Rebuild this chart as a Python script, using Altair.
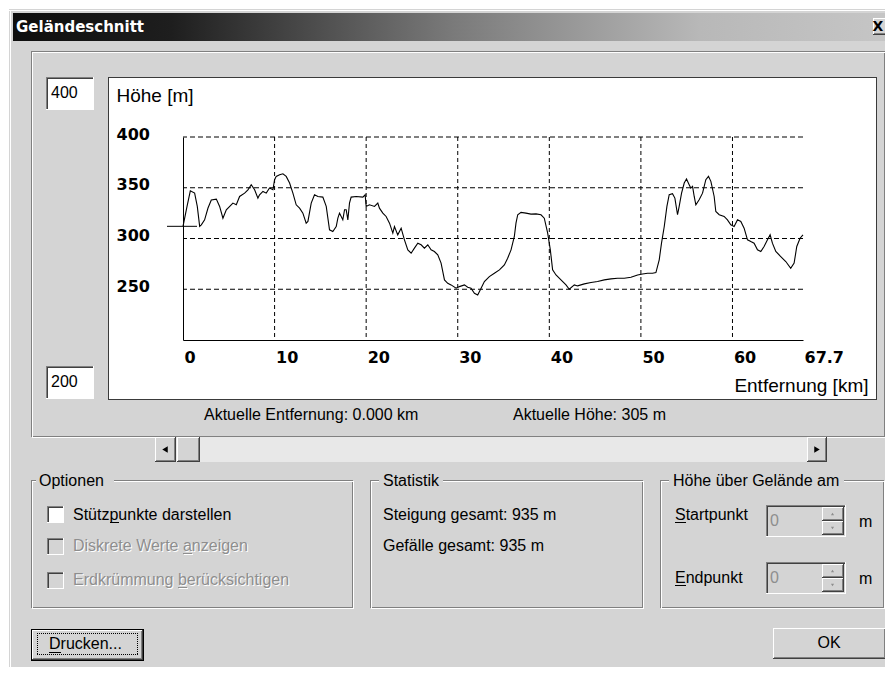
import altair as alt
import pandas as pd

# ---------------- data ----------------
KM = [0.00, 0.44, 0.80, 1.27, 1.56, 1.82, 2.00, 2.36, 2.73, 3.09,
      3.64, 4.00, 4.36, 4.73, 5.45, 5.82, 6.18, 6.73, 7.09, 7.45,
      7.82, 8.18, 8.36, 8.73, 9.09, 9.45, 9.82, 10.00, 10.18, 10.55,
      10.91, 11.27, 11.64, 12.00, 12.36, 12.73, 13.09, 13.45, 13.64, 14.00,
      14.36, 14.73, 15.27, 15.64, 16.00, 16.36, 16.73, 16.91, 17.09, 17.45,
      17.64, 17.82, 18.00, 18.18, 18.36, 18.91, 19.64, 19.89, 20.00, 20.36,
      20.91, 21.27, 21.45, 21.82, 22.18, 22.55, 22.91, 23.09, 23.45, 23.82,
      24.18, 24.55, 24.91, 25.27, 25.64, 26.00, 26.36, 26.73, 27.09, 27.45,
      27.82, 28.18, 28.55, 28.91, 29.27, 29.82, 30.18, 30.73, 31.09, 31.45,
      31.82, 32.18, 32.55, 32.91, 33.45, 34.00, 34.55, 35.09, 35.45, 35.82,
      36.18, 36.36, 36.55, 36.91, 37.45, 38.00, 38.55, 39.09, 39.45,
      39.82, 40.11, 40.36, 40.73, 41.27, 41.82, 42.18, 42.73, 43.09, 43.82,
      44.55, 45.27, 46.00, 46.73, 47.45, 48.18, 48.91, 49.64, 50.18, 50.73,
      51.27, 51.64, 52.00, 52.25, 52.55, 52.84, 53.09, 53.45, 53.71, 54.00,
      54.18, 54.44, 54.73, 54.98, 55.27, 55.45, 55.64, 55.82, 56.00, 56.36,
      56.73, 57.09, 57.38, 57.64, 58.00, 58.18, 58.55, 59.09, 59.45, 59.82,
      60.18, 60.55, 60.91, 61.27, 61.64, 62.00, 62.36, 62.73, 63.09, 63.45,
      63.82, 64.11, 64.36, 64.73, 65.27, 65.82, 66.36, 66.73, 67.02, 67.38,
      67.70]
HOEHE = [312, 331.6, 347, 344.7, 331.6, 312, 313.5, 318.4, 330, 338,
         338.8, 331.6, 320, 328.3, 334.9, 333.2, 341.4, 344.7, 348, 353,
         348, 339.8, 343, 346.4, 344.7, 349.7, 348, 357.9, 361.2, 362.8,
         363.8, 361.2, 354.6, 344.7, 333.2, 329.9, 325, 315.1, 316.8, 334.9,
         343.1, 341.4, 340.8, 331.6, 308.6, 306.9, 311.8, 320, 325, 318.4,
         328.3, 328.3, 318.4, 334.9, 340.8, 341.4, 340.8, 343.1, 331.6, 333.2,
         331.6, 334.9, 329.9, 325, 321.7, 315.1, 305.3, 311.8, 303.6, 310.2,
         298.7, 288.8, 285.5, 290.5, 295.4, 293.8, 290.5, 293.8, 288.8, 287.2,
         283.9, 275.7, 259.2, 255.9, 254.3, 251, 252.6, 254.3, 252, 251,
         246, 244.4, 251, 257.6, 262.5, 265.8, 269.1, 274, 280.6, 288.8,
         302, 315.1, 323.4, 325.7, 325, 324, 324.3, 323.4, 320,
         305.3, 288.8, 269.1, 264.1, 259.2, 254.3, 250, 254.3, 253.3, 255.3,
         256.6, 257.6, 259.2, 260.2, 260.9, 260.9, 261.8, 264.1, 265.1, 265.8,
         265.8, 266.4, 279, 295.4, 311.8, 331.6, 343.1, 344.1, 339.8, 323.4,
         331.6, 344.7, 354.6, 358.6, 353, 349.7, 351.3, 341.4, 333.2, 338.2,
         344.7, 357.9, 361.2, 356.3, 341.4, 326.6, 323.4, 321.7, 318.4, 313.5,
         311.8, 318.4, 316.8, 310.2, 298.7, 297, 295.4, 288.8, 287.2, 292.1,
         298.7, 303.6, 295.4, 287.2, 282.2, 277.3, 270.7, 275.7, 292.1, 300.3,
         303.6]
assert len(KM) == len(HOEHE)

X_DOMAIN = [0, 67.7]
Y_DOMAIN = [200, 400]
X_TICKS = [0, 10, 20, 30, 40, 50, 60, 67.7]
Y_TICKS = [250, 300, 350, 400]
X_GRID = [10, 20, 30, 40, 50, 60]
Y_GRID = [250, 300, 350, 400]
CURRENT_H = [HOEHE[0]]

Y_TITLE = "Höhe [m]"
X_TITLE = "Entfernung [km]"
WIN_TITLE = "Geländeschnitt"
Y_MAX_BOX = "400"
Y_MIN_BOX = "200"
STATUS_DIST = "Aktuelle Entfernung: 0.000 km"
STATUS_H = "Aktuelle Höhe: 305 m"
OPT_TITLE = "Optionen"
OPT_ITEMS = ["Stützpunkte darstellen", "Diskrete Werte anzeigen", "Erdkrümmung berücksichtigen"]
STAT_TITLE = "Statistik"
STAT_ITEMS = ["Steigung gesamt: 935 m", "Gefälle gesamt: 935 m"]
HOG_TITLE = "Höhe über Gelände am"
HOG_ITEMS = ["Startpunkt", "Endpunkt"]
SPIN_VALUE = "0"
UNIT = "m"
BTN_PRINT = "Drucken..."
BTN_OK = "OK"

# ---------------- styling ----------------
BG = "#d4d4d4"
DIS = "#8e8e8e"
UI_FONT = "Liberation Sans"
AX_FONT = "DejaVu Sans"
X0, Y0 = 183, 137           # page pixel of the plot origin
ONE = alt.Data(values=[{"d": 0}])
layers = []


def vx(x):
    return alt.value(x - X0)


def vy(y):
    return alt.value(y - Y0)


def box(x1, y1, x2, y2, fill):
    layers.append(alt.Chart(ONE).mark_rect(fill=fill).encode(
        x=vx(x1), x2=vx(x2), y=vy(y1), y2=vy(y2)))


def seg(x1, y1, x2, y2, color, dash=None):
    kw = dict(color=color, strokeWidth=1)
    if dash:
        kw["strokeDash"] = dash
    layers.append(alt.Chart(ONE).mark_rule(**kw).encode(
        x=vx(x1), y=vy(y1), x2=vx(x2), y2=vy(y2)))


def hline(xa, xb, row, color, dash=None):
    seg(xa, row + 0.5, xb, row + 0.5, color, dash)


def vline(col, ya, yb, color, dash=None):
    seg(col + 0.5, ya, col + 0.5, yb, color, dash)


def outline(x1, y1, x2, y2, color, dash=None):
    hline(x1, x2 + 1, y1, color, dash)
    hline(x1, x2 + 1, y2, color, dash)
    vline(x1, y1, y2 + 1, color, dash)
    vline(x2, y1, y2 + 1, color, dash)


def label(s, x, y, size=16, color="black", align="left", weight="normal", font=UI_FONT):
    layers.append(alt.Chart(ONE).mark_text(
        text=s, align=align, baseline="middle", fontSize=size, color=color,
        font=font, fontWeight=weight).encode(x=vx(x), y=vy(y)))


def dis_label(s, x, y):
    label(s, x + 1, y + 1, color="white")
    label(s, x, y, color=DIS)


def raised(x1, y1, x2, y2):
    box(x1, y1, x2, y2, BG)
    hline(x1, x2, y1, "white")
    vline(x1, y1, y2, "white")
    hline(x1 + 1, x2 - 1, y2 - 2, "#808080")
    vline(x2 - 2, y1 + 1, y2 - 1, "#808080")
    hline(x1, x2, y2 - 1, "#404040")
    vline(x2 - 1, y1, y2, "#404040")


def sunken(x1, y1, x2, y2, fill="white"):
    box(x1, y1, x2, y2, fill)
    hline(x1, x2, y1, "#808080")
    vline(x1, y1, y2, "#808080")
    hline(x1 + 1, x2 - 1, y1 + 1, "#404040")
    vline(x1 + 1, y1 + 1, y2 - 1, "#404040")
    hline(x1, x2, y2 - 1, "white")
    vline(x2 - 1, y1, y2, "white")


def etched(x1, y1, x2, y2):
    outline(x1, y1, x2 - 1, y2 - 1, "#808080")
    outline(x1 + 1, y1 + 1, x2, y2, "white")


def tri(x, y, shape, color="black", size=24):
    layers.append(alt.Chart(ONE).mark_point(
        shape=shape, filled=True, color=color, size=size, opacity=1).encode(x=vx(x), y=vy(y)))


# ---------------- dialog chrome ----------------
box(9, 9, 893, 675, BG)
hline(9, 893, 10, "white")
vline(10, 10, 675, "white")
title_grad = alt.LinearGradient(
    gradient="linear", x1=0, x2=1, y1=0, y2=0,
    stops=[alt.GradientStop(offset=0, color="#0e0e0e"),
           alt.GradientStop(offset=0.18, color="#1e1e1e"),
           alt.GradientStop(offset=0.5, color="#7a7a7a"),
           alt.GradientStop(offset=0.78, color="#b8b8b8"),
           alt.GradientStop(offset=1, color="#c6c6c6")])
box(13, 13, 893, 41, title_grad)
label(WIN_TITLE, 16, 27, size=15, color="white", weight="bold", font=AX_FONT)
raised(873, 18, 893, 35)
label("X", 878, 27, size=14, weight="bold", align="center", font=AX_FONT)

etched(31, 51, 885, 437)
sunken(46, 77, 94, 110)
label(Y_MAX_BOX, 51, 93)
sunken(46, 366, 94, 399)
label(Y_MIN_BOX, 51, 382)
box(108, 77, 877, 400, "white")
outline(108, 77, 876, 399, "#3a3a3a")
label(STATUS_DIST, 204, 415)
label(STATUS_H, 513, 415)

# scrollbar
box(155, 437, 827, 462, "#e8e8e8")
raised(155, 437, 176, 462)
tri(165, 449.5, "triangle-left", size=40)
raised(177, 437, 200, 462)
raised(807, 437, 827, 462)
tri(817, 449.5, "triangle-right", size=40)

# group "Optionen"
etched(31, 480, 353, 608)
box(36, 472, 114, 490, BG)
label(OPT_TITLE, 39, 481)
sunken(47, 506, 64, 523)
label(OPT_ITEMS[0], 73, 515)
hline(110, 119, 522, "black")
sunken(47, 538, 64, 555, BG)
dis_label(OPT_ITEMS[1], 73, 546)
hline(184, 193, 554, "white")
hline(183, 192, 553, DIS)
sunken(47, 572, 64, 589, BG)
dis_label(OPT_ITEMS[2], 73, 580)
hline(179, 188, 588, "white")
hline(178, 187, 587, DIS)

# group "Statistik"
etched(370, 480, 643, 608)
box(379, 472, 443, 490, BG)
label(STAT_TITLE, 383, 481)
label(STAT_ITEMS[0], 383, 515)
label(STAT_ITEMS[1], 383, 546)

# group "Höhe über Gelände am"
etched(660, 480, 884, 608)
box(669, 472, 844, 490, BG)
label(HOG_TITLE, 673, 481)
for i, (yc, ytop) in enumerate([(515, 505), (578, 562)]):
    label(HOG_ITEMS[i], 675, yc)
    hline(675, 686, yc + 7, "black")
    sunken(766, ytop, 846, ytop + 32, BG)
    label(SPIN_VALUE, 770, ytop + 16, color=DIS)
    raised(822, ytop + 2, 844, ytop + 16)
    raised(822, ytop + 16, 844, ytop + 30)
    tri(832.5, ytop + 9, "triangle-up", color=DIS, size=10)
    tri(832.5, ytop + 23, "triangle-down", color=DIS, size=10)
    label(UNIT, 859, ytop + 17)

# buttons
box(31, 629, 144, 661, "black")
raised(32, 630, 143, 660)
outline(37, 633, 137, 654, "black", dash=[1, 1])
label(BTN_PRINT, 49, 644)
hline(49, 61, 652, "black")
raised(773, 628, 886, 659)
label(BTN_OK, 829, 643, align="center")

# ---------------- the profile chart ----------------
X_SCALE = alt.Scale(domain=X_DOMAIN, nice=False, zero=False)
Y_SCALE = alt.Scale(domain=Y_DOMAIN, nice=False, zero=False)
X_AXIS = alt.Axis(
    values=X_TICKS, labelExpr="'' + datum.value", grid=False, ticks=False, tickSize=0,
    domain=True, domainColor="black", domainWidth=1,
    labelAlign="left", labelBaseline="middle", labelPadding=17, labelOffset=1,
    labelFont=AX_FONT, labelFontSize=16, labelFontWeight="bold", labelColor="black",
    labelFlush=False, labelOverlap=False,
    title=X_TITLE, titleFont=UI_FONT, titleFontSize=19, titleFontWeight="normal",
    titleColor="black", titleAlign="right", titleBaseline="middle",
    titleX=868 - X0, titleY=385 - 340, zindex=1)
Y_AXIS = alt.Axis(
    values=Y_TICKS, format="d", grid=False, ticks=False, tickSize=0,
    domain=True, domainColor="black", domainWidth=1,
    labelAlign="left", labelBaseline="middle", labelPadding=67, labelOffset=-3,
    labelFont=AX_FONT, labelFontSize=16, labelFontWeight="bold", labelColor="black",
    labelFlush=False, labelOverlap=False,
    title=Y_TITLE, titleFont=UI_FONT, titleFontSize=19, titleFontWeight="normal",
    titleColor="black", titleAngle=0, titleAlign="left", titleBaseline="middle",
    titleX=116 - X0, titleY=95 - Y0, zindex=1)

vgrid = alt.Chart(pd.DataFrame({"km": X_GRID})).mark_rule(
    color="black", strokeWidth=1, strokeDash=[4, 3]).encode(
    x=alt.X("km:Q", scale=X_SCALE, axis=X_AXIS))
hgrid = alt.Chart(pd.DataFrame({"m": Y_GRID})).mark_rule(
    color="black", strokeWidth=1, strokeDash=[5, 3]).encode(
    y=alt.Y("m:Q", scale=Y_SCALE, axis=Y_AXIS))
profile = alt.Chart(pd.DataFrame({"km": KM, "m": HOEHE})).mark_line(
    color="black", strokeWidth=1.1).encode(
    x=alt.X("km:Q", scale=X_SCALE, axis=X_AXIS),
    y=alt.Y("m:Q", scale=Y_SCALE, axis=Y_AXIS))
marker = alt.Chart(pd.DataFrame({"m": CURRENT_H})).mark_rule(
    color="black", strokeWidth=1).encode(
    y=alt.Y("m:Q", scale=Y_SCALE, axis=Y_AXIS), x=vx(167), x2=vx(197))

chart = alt.layer(*layers, vgrid, hgrid, profile, marker).properties(
    width=620, height=203,
    padding={"left": 175, "top": 129, "right": 82, "bottom": 327},
    autosize=alt.AutoSizeParams(type="none"),
    background="white",
).configure_view(stroke="transparent")

chart.save("out.html", embed_options={"renderer": "svg", "actions": False})
